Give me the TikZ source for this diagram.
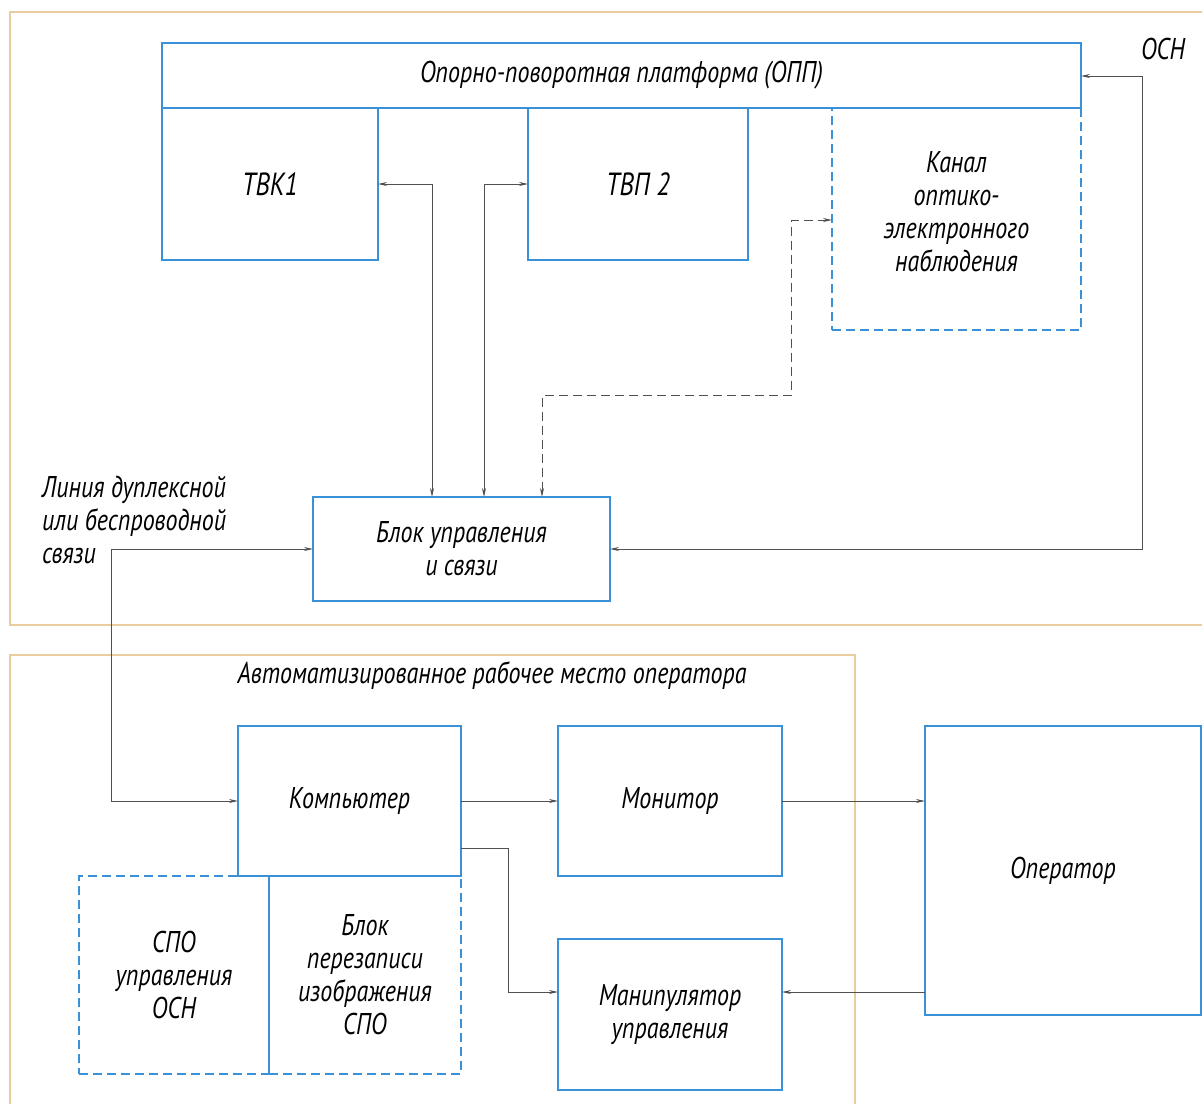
\documentclass[tikz,border=0pt]{standalone}
\usepackage{fontspec}
\setmainfont{PT Sans}[FakeStretch=0.8]
\usetikzlibrary{arrows.meta}
\definecolor{boxblue}{RGB}{58,145,215}
\definecolor{frametan}{RGB}{232,205,160}
\definecolor{linegray}{RGB}{80,80,80}
\newcommand\gosttext{\fontsize{30}{33}\selectfont\itshape}
\begin{document}
\begin{tikzpicture}[x=1pt,y=-1pt,
  >={Stealth[length=9pt,width=4pt]},
  box/.style={draw=boxblue, line width=1.8pt, inner sep=0pt, outer sep=0pt,
    anchor=north west, align=center, font=\gosttext},
  dbox/.style={box, dash pattern=on 9pt off 5pt},
  conn/.style={draw=linegray, line width=0.9pt},
  dconn/.style={conn, dash pattern=on 9pt off 5pt},
  frame/.style={draw=frametan, line width=1.4pt},
  lbl/.style={inner sep=0pt, font=\gosttext}]
\useasboundingbox (0,0) rectangle (1202,1104);
\fill[white] (0,0) rectangle (1202,1104);

% frames
\draw[frame] (1202,12) -- (10,12) -- (10,625) -- (1202,625);
\draw[frame] (10,1104) -- (10,655) -- (855,655) -- (855,1104);

% boxes
\node[dbox, minimum width=249pt, minimum height=222pt] (kanal) at (832,108)
  {Канал\\оптико-\\электронного\\наблюдения\\[-18pt]};
\node[box, minimum width=919pt, minimum height=65pt] (opp) at (162,43)
  {Опорно-поворотная платформа (ОПП)};
\node[box, minimum width=216pt, minimum height=152pt] (tvk) at (162,108)
  {\fontsize{32}{33}\selectfont ТВК1};
\node[box, minimum width=220pt, minimum height=152pt] (tvp) at (528,108)
  {\fontsize{32}{33}\selectfont ТВП 2};
\node[box, minimum width=297pt, minimum height=104pt] (blok) at (313,497)
  {Блок управления\\и связи};

\node[dbox, minimum width=190pt, minimum height=198pt] (spo) at (79,876)
  {СПО\\управления\\ОСН};
\node[dbox, minimum width=192pt, minimum height=198pt] (perez) at (269,876)
  {Блок\\перезаписи\\изображения\\СПО};
\node[box, minimum width=223pt, minimum height=150pt] (comp) at (238,726)
  {Компьютер};
\node[box, minimum width=224pt, minimum height=150pt] (mon) at (558,726)
  {Монитор};
\node[box, minimum width=224pt, minimum height=151pt] (manip) at (558,939)
  {Манипулятор\\управления};
\node[box, minimum width=276pt, minimum height=289pt] (oper) at (925,726)
  {Оператор};

% labels
\node[lbl] (osn) at (1163,49) {ОСН};
\node[lbl, anchor=north west, align=left] (linia) at (42,476)
  {Линия дуплексной\\или беспроводной\\связи};
\node[lbl] (arm) at (492,676) {Автоматизированное рабочее место оператора};

% coordinates
\coordinate (c1) at (432,184);
\coordinate (c2) at (484,184);
\coordinate (c3a) at (542,395);
\coordinate (c3b) at (791,220);
\coordinate (c4) at (1142,76);
\coordinate (c5) at (111,549);
\coordinate (c6) at (508,848);
\coordinate (c7) at (558,992);

% connectors
\draw[conn,<->] (tvk.east |- c1) -- (c1) -- (c1 |- blok.north);
\draw[conn,<->] (tvp.west |- c2) -- (c2) -- (c2 |- blok.north);
\draw[dconn,<->] (kanal.west |- c3b) -- (c3b) -- (c3b |- c3a) -- (c3a) -- (c3a |- blok.north);
\draw[conn,<->] (opp.east |- c4) -- (c4) -- (c4 |- blok.east) -- (blok.east);
\draw[conn,<->] (blok.west) -- (c5) -- (c5 |- comp.west) -- (comp.west);
\draw[conn,->] (comp.east) -- (mon.west);
\draw[conn,->] (mon.east) -- (mon.east -| oper.west);
\draw[conn,->] (comp.east |- c6) -- (c6) -- (c6 |- c7) -- (manip.west |- c7);
\draw[conn,->] (oper.west |- c7) -- (manip.east |- c7);
\end{tikzpicture}
\end{document}
